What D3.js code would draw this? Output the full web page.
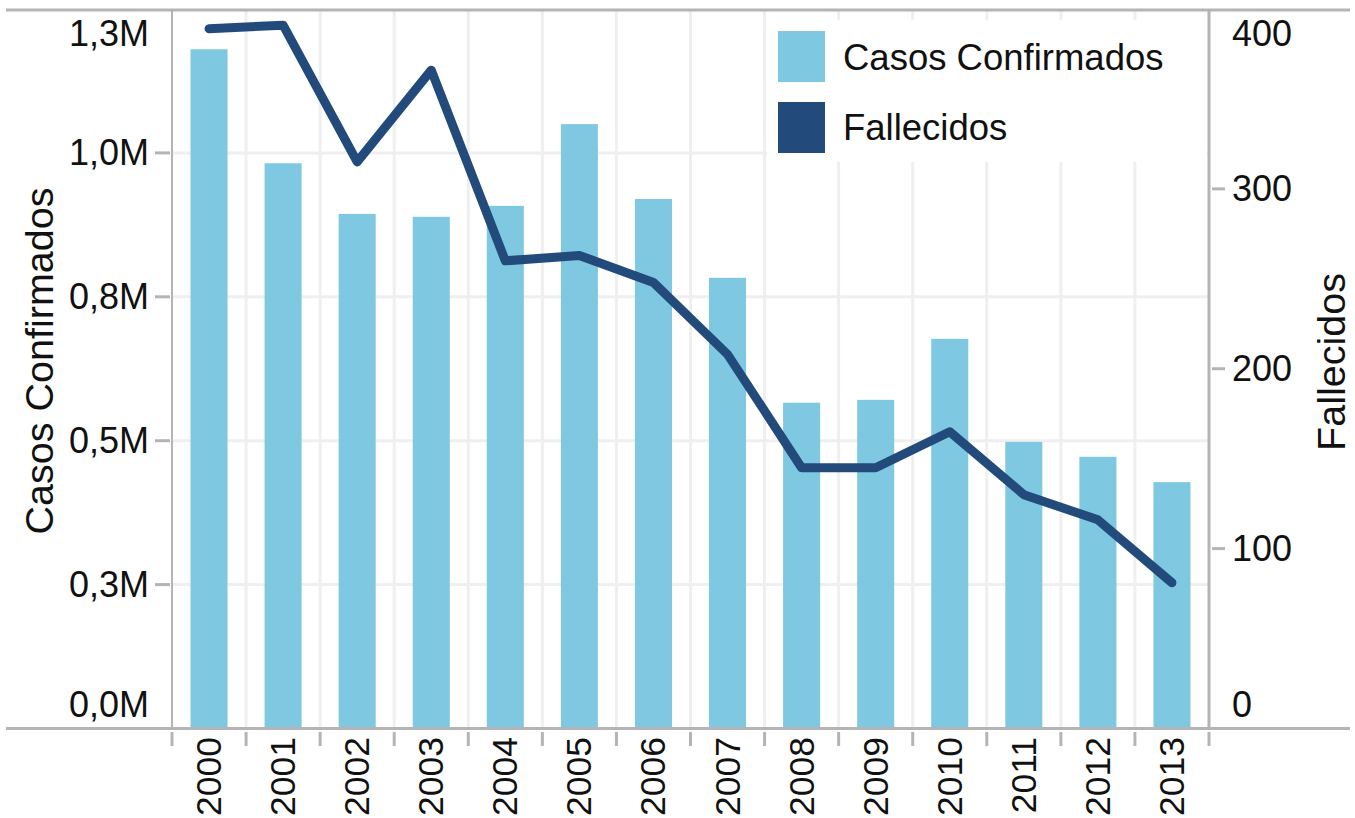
<!DOCTYPE html>
<html>
<head>
<meta charset="utf-8">
<script src="https://cdn.jsdelivr.net/npm/d3@7"></script>
<style>
  html, body { margin: 0; padding: 0; background: #fff; }
  svg { display: block; font-family: "Liberation Sans", Arial, sans-serif; }
</style>
</head>
<body>
<svg id="chart" width="1355" height="818"></svg>
<script>
// ---- data ----
const years = ["2000","2001","2002","2003","2004","2005","2006","2007","2008","2009","2010","2011","2012","2013"];
const casosConfirmados = [1180000, 982000, 894000, 889000, 908000, 1050000, 920000, 783000, 566000, 571000, 677000, 498000, 472000, 428000];
const fallecidos = [389, 391, 315, 366, 260, 263, 248, 208, 145, 145, 165, 130, 116, 81];
const leftTickValues = [0, 250000, 500000, 750000, 1000000, 1250000];
const leftTickLabels = ["0,0M", "0,3M", "0,5M", "0,8M", "1,0M", "1,3M"];
const rightTickValues = [0, 100, 200, 300, 400];
const rightTickLabels = ["0", "100", "200", "300", "400"];
const seriesNames = ["Casos Confirmados", "Fallecidos"];

// ---- layout / style ----
const X0 = 172, X1 = 1209, YTOP = 9, YBOT = 728.5;
const barColor = "#7ec8e1", lineColor = "#224b7c";
const gridColor = "#efefef", axisColor = "#b4b4b4", textColor = "#111";

const svg = d3.select("#chart");

const x = d3.scaleBand().domain(years).range([X0, X1]).paddingInner(0.5).paddingOuter(0.25);
const yL = d3.scaleLinear().domain([0, 1250000]).range([YBOT, YTOP]);
const yR = d3.scaleLinear().domain([0, 400]).range([YBOT, YTOP]);
const step = x.step();
const boundary = d => x(d) - step * 0.25;
const boundaries = years.map(boundary).concat([X1]);

// gridlines
const grid = svg.append("g");
grid.selectAll("line.v").data(boundaries.slice(1, -1)).join("line")
  .attr("x1", d => d).attr("x2", d => d).attr("y1", YTOP).attr("y2", YBOT)
  .attr("stroke", gridColor).attr("stroke-width", 3);
grid.selectAll("line.h").data(leftTickValues.slice(1, -1)).join("line")
  .attr("x1", X0).attr("x2", X1).attr("y1", d => yL(d)).attr("y2", d => yL(d))
  .attr("stroke", gridColor).attr("stroke-width", 3);

// bars
svg.append("g").selectAll("rect").data(years).join("rect")
  .attr("x", d => x(d)).attr("width", x.bandwidth())
  .attr("y", (d, i) => yL(casosConfirmados[i]))
  .attr("height", (d, i) => YBOT - yL(casosConfirmados[i]))
  .attr("fill", barColor);

// legend background
svg.append("rect").attr("x", 767).attr("y", 20).attr("width", 440).attr("height", 142).attr("fill", "#fff");

// line
const line = d3.line().x((d, i) => x(years[i]) + x.bandwidth() / 2).y(d => yR(d));
svg.append("path").datum(fallecidos).attr("d", line)
  .attr("fill", "none").attr("stroke", lineColor).attr("stroke-width", 9)
  .attr("stroke-linejoin", "round").attr("stroke-linecap", "round");

// axis frame lines
const ax = svg.append("g").attr("stroke", axisColor);
ax.append("line").attr("x1", 6).attr("x2", 1350).attr("y1", YTOP + 1).attr("y2", YTOP + 1).attr("stroke-width", 3);
ax.append("line").attr("x1", 6).attr("x2", 1350).attr("y1", YBOT).attr("y2", YBOT).attr("stroke-width", 3);
ax.append("line").attr("x1", X0).attr("x2", X0).attr("y1", YTOP).attr("y2", YBOT).attr("stroke-width", 2);
ax.append("line").attr("x1", X1).attr("x2", X1).attr("y1", YTOP).attr("y2", YBOT).attr("stroke-width", 3);
// x ticks
ax.selectAll("line.xt").data(boundaries).join("line")
  .attr("x1", d => d).attr("x2", d => d).attr("y1", 732).attr("y2", 746).attr("stroke-width", 3);
// left ticks
ax.selectAll("line.lt").data(leftTickValues.slice(1, -1)).join("line")
  .attr("x1", 155).attr("x2", 170).attr("y1", d => yL(d)).attr("y2", d => yL(d)).attr("stroke-width", 3);
// right ticks
ax.selectAll("line.rt").data(rightTickValues.slice(1, -1)).join("line")
  .attr("x1", 1212).attr("x2", 1225).attr("y1", d => yR(d)).attr("y2", d => yR(d)).attr("stroke-width", 3);

const clampY = y => Math.max(YTOP + 24, Math.min(YBOT - 24, y));

// left tick labels
svg.append("g").selectAll("text").data(leftTickValues).join("text")
  .attr("x", 149).attr("y", d => clampY(yL(d)))
  .attr("text-anchor", "end").attr("dominant-baseline", "central")
  .attr("font-size", 36).attr("fill", textColor)
  .text((d, i) => leftTickLabels[i]);

// right tick labels
svg.append("g").selectAll("text").data(rightTickValues).join("text")
  .attr("x", 1232).attr("y", d => clampY(yR(d)))
  .attr("text-anchor", "start").attr("dominant-baseline", "central")
  .attr("font-size", 36).attr("fill", textColor)
  .text((d, i) => rightTickLabels[i]);

// x labels
svg.append("g").selectAll("text").data(years).join("text")
  .attr("transform", d => `translate(${x(d) + x.bandwidth() / 2},737) rotate(-90)`)
  .attr("text-anchor", "end").attr("dominant-baseline", "central")
  .attr("font-size", 35.5).attr("fill", textColor)
  .text(d => d);

// axis titles
svg.append("text").attr("transform", "translate(53,361) rotate(-90)")
  .attr("text-anchor", "middle").attr("font-size", 39.5).attr("fill", textColor)
  .text(seriesNames[0]);
svg.append("text").attr("transform", "translate(1345,362) rotate(-90)")
  .attr("text-anchor", "middle").attr("font-size", 39.5).attr("fill", textColor)
  .text(seriesNames[1]);

// legend
const legendColors = [barColor, lineColor];
const lg = svg.append("g");
lg.selectAll("rect").data(seriesNames).join("rect")
  .attr("x", 778).attr("y", (d, i) => 31 + i * 71).attr("width", 47).attr("height", 51)
  .attr("fill", (d, i) => legendColors[i]);
lg.selectAll("text").data(seriesNames).join("text")
  .attr("x", 843).attr("y", (d, i) => 70 + i * 70)
  .attr("font-size", 36.5).attr("fill", textColor)
  .text(d => d);
</script>
</body>
</html>
